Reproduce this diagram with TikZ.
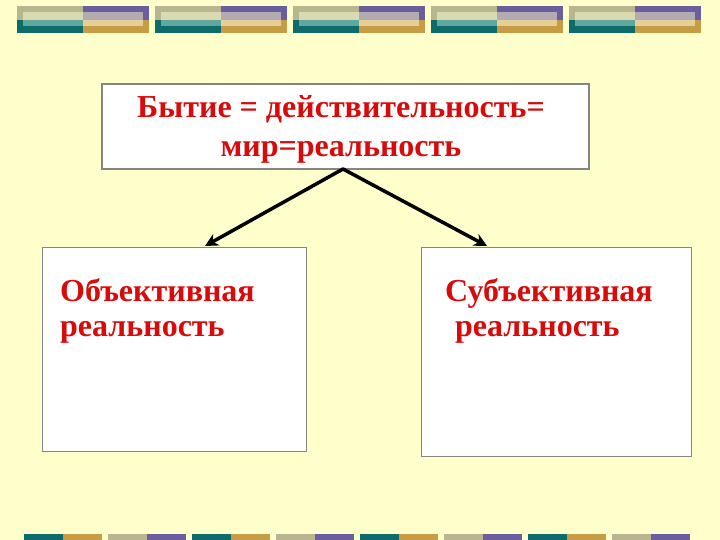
\documentclass[tikz,border=0pt]{standalone}
\usepackage{fontspec}
\setmainfont{Liberation Serif}
\usetikzlibrary{arrows.meta,positioning}

\definecolor{paper}{HTML}{FFFFCC}
\definecolor{slidered}{HTML}{D80A0A}
\definecolor{framegray}{HTML}{858585}
\definecolor{stripeteal}{HTML}{0E6B6B}
\definecolor{stripelightteal}{HTML}{5FA8A0}
\definecolor{stripeolive}{HTML}{B8B68E}
\definecolor{stripelightolive}{HTML}{DADAB0}
\definecolor{stripepurple}{HTML}{6A5E9E}
\definecolor{stripelavender}{HTML}{B2ABB2}
\definecolor{stripegold}{HTML}{C69C44}
\definecolor{stripetan}{HTML}{E6CF96}

\begin{document}
\begin{tikzpicture}[x=1pt,y=-1pt,
    frame/.style={draw=framegray, line width=1.3pt, fill=white, inner sep=0pt},
    title/.style={text=slidered, font=\fontsize{32}{39}\selectfont\bfseries, align=center, inner sep=0pt},
    caption/.style={text=slidered, font=\fontsize{32}{35}\selectfont\bfseries, align=left, inner sep=0pt},
    link/.style={line width=3.5pt, -{Stealth[length=13pt,width=13pt]}}]
  \fill[paper] (0,0) rectangle (720,540);
  \useasboundingbox (0,0) rectangle (720,540);

  % top ribbon
  \foreach \i in {0,...,4}
  {
    \begin{scope}[xshift=138*\i]
      \fill[stripeolive] (17,6) rectangle (83,20);
      \fill[stripelightolive] (23,12) rectangle (83,20);
      \fill[stripeteal] (17,20) rectangle (83,33);
      \fill[stripelightteal] (23,20) rectangle (83,26);
      \fill[stripepurple] (83,6) rectangle (149,20);
      \fill[stripelavender] (83,12) rectangle (143,20);
      \fill[stripegold] (83,20) rectangle (149,33);
      \fill[stripetan] (83,20) rectangle (143,26);
    \end{scope}
  }

  % bottom ribbon
  \foreach \j in {0,2,4,6}
  {
    \fill[stripeteal] (24+84*\j,534) rectangle (63+84*\j,540);
    \fill[stripegold] (63+84*\j,534) rectangle (102+84*\j,540);
    \fill[stripeolive] (108+84*\j,534) rectangle (147+84*\j,540);
    \fill[stripepurple] (147+84*\j,534) rectangle (186+84*\j,540);
  }

  % boxes
  \node[frame, minimum width=487pt, minimum height=85pt] (being) at (345.5,126.5) {};
  \node[frame, minimum width=264pt, minimum height=204pt, anchor=north west] (objective) at (42,247) {};
  \node[frame, minimum width=270pt, minimum height=209pt, anchor=north west] (subjective) at (421,247) {};

  % texts (base = last line)
  \node[title, anchor=base] (beinglabel) at (341,157) {Бытие = действительность=\\мир=реальность};
  \node[caption, anchor=base west] (objlabel) at (60,336) {Объективная\\реальность};
  \node[caption, anchor=base west] (subjlabel) at (445,336) {Субъективная\\\hspace*{10pt}реальность};

  % arrows
  \coordinate (apex) at (343,169);
  \coordinate (objtip) at (205,246);
  \coordinate (subjtip) at (487,246);
  \draw[link, line cap=round] (apex) -- (objtip);
  \draw[link, line cap=round] (apex) -- (subjtip);
\end{tikzpicture}
\end{document}
